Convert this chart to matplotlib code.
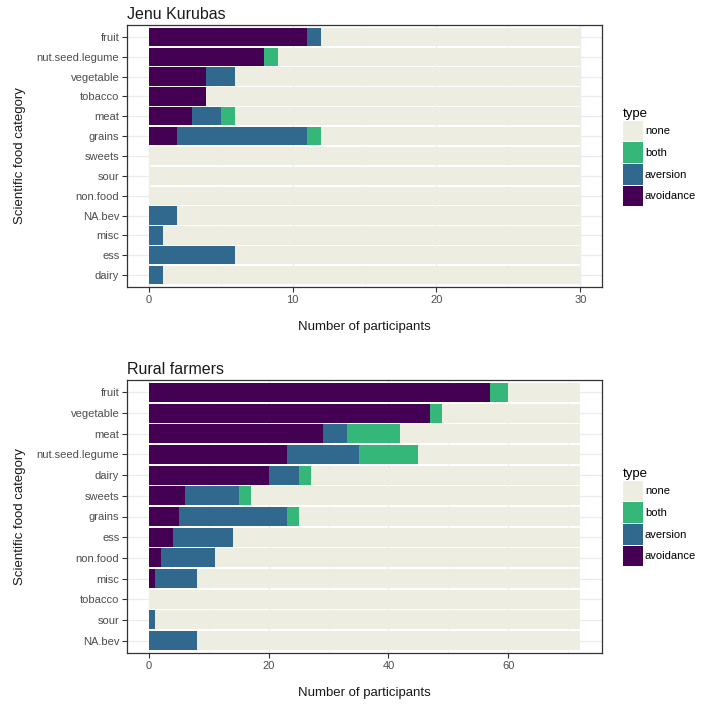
import numpy as np
import matplotlib.pyplot as plt
from matplotlib.patches import Patch

plt.rcParams['font.family'] = ['Liberation Sans', 'DejaVu Sans']

types = ['avoidance', 'aversion', 'both', 'none']
colors = {'avoidance': '#440154', 'aversion': '#31688E', 'both': '#35B779', 'none': '#EEEDE2'}

# Jenu Kurubas (total 30)
jk_cats = ['fruit', 'nut.seed.legume', 'vegetable', 'tobacco', 'meat', 'grains', 'sweets',
           'sour', 'non.food', 'NA.bev', 'misc', 'ess', 'dairy']
jk_avoid = [11, 8, 4, 4, 3, 2, 0, 0, 0, 0, 0, 0, 0]
jk_avers = [1, 0, 2, 0, 2, 9, 0, 0, 0, 2, 1, 6, 1]
jk_both = [0, 1, 0, 0, 1, 1, 0, 0, 0, 0, 0, 0, 0]
jk_total = 30

# Rural farmers (total 72)
rf_cats = ['fruit', 'vegetable', 'meat', 'nut.seed.legume', 'dairy', 'sweets', 'grains',
           'ess', 'non.food', 'misc', 'tobacco', 'sour', 'NA.bev']
rf_avoid = [57, 47, 29, 23, 20, 6, 5, 4, 2, 1, 0, 0, 0]
rf_avers = [0, 0, 4, 12, 5, 9, 18, 10, 9, 7, 0, 1, 8]
rf_both = [3, 2, 9, 10, 2, 2, 2, 0, 0, 0, 0, 0, 0]
rf_total = 72

W, H = 704, 707
fig = plt.figure(figsize=(W / 100, H / 100), dpi=100)


def panel(top, bottom, title, cats, avoid, avers, both, total, xticks, leg_top):
    ax = fig.add_axes([127 / W, (H - bottom) / H, (602 - 127) / W, (bottom - top) / H])
    n = len(cats)
    y = np.arange(n)[::-1]
    avoid = np.array(avoid)
    avers = np.array(avers)
    both = np.array(both)
    none = total - avoid - avers - both
    left = np.zeros(n)
    for t, vals in zip(types, [avoid, avers, both, none]):
        ax.barh(y, vals, left=left, height=0.92, color=colors[t], linewidth=0, zorder=2)
        left = left + vals
    ax.set_xlim(-0.05 * total, 1.05 * total)
    ax.set_ylim(-0.6, n - 0.4)
    ax.set_yticks(y)
    ax.set_yticklabels(cats)
    ax.set_xticks(xticks)
    minor = [(a + b) / 2 for a, b in zip(xticks[:-1], xticks[1:])]
    if xticks[-1] + (xticks[1] - xticks[0]) / 2 < 1.05 * total:
        minor.append(xticks[-1] + (xticks[1] - xticks[0]) / 2)
    ax.set_xticks(minor, minor=True)
    ax.grid(True, which='major', color='#EBEBEB', linewidth=0.9, zorder=0)
    ax.grid(True, which='minor', axis='x', color='#F2F2F2', linewidth=0.5, zorder=0)
    ax.set_axisbelow(True)
    ax.tick_params(axis='both', which='major', labelsize=8, labelcolor='#4D4D4D',
                   color='#333333', length=3.5, width=0.8, pad=2)
    ax.tick_params(axis='x', which='minor', length=0)
    for s in ax.spines.values():
        s.set_color('#333333')
        s.set_linewidth(0.9)
    ax.set_title(title, loc='left', fontsize=11.5, color='#1A1A1A', pad=4)
    ax.set_xlabel('Number of participants', fontsize=9.5, color='#1A1A1A', labelpad=12)
    ax.set_ylabel('Scientific food category', fontsize=9.5, color='#1A1A1A', labelpad=8)
    handles = [Patch(facecolor=colors[t], linewidth=0)
               for t in ['none', 'both', 'aversion', 'avoidance']]
    leg = fig.legend(handles, ['none', 'both', 'aversion', 'avoidance'], title='type',
                     loc='upper left', bbox_to_anchor=(615 / W, (H - leg_top) / H),
                     frameon=False, fontsize=8, title_fontsize=9.5,
                     handlelength=1.8, handleheight=2.5, labelspacing=0.08,
                     handletextpad=0.2, borderpad=0.2)
    leg._legend_box.align = 'left'
    return ax


panel(25, 287, 'Jenu Kurubas', jk_cats, jk_avoid, jk_avers, jk_both, jk_total,
      [0, 10, 20, 30], 100)
panel(380, 653, 'Rural farmers', rf_cats, rf_avoid, rf_avers, rf_both, rf_total,
      [0, 20, 40, 60], 460)

fig.savefig('out.png', dpi=100)
